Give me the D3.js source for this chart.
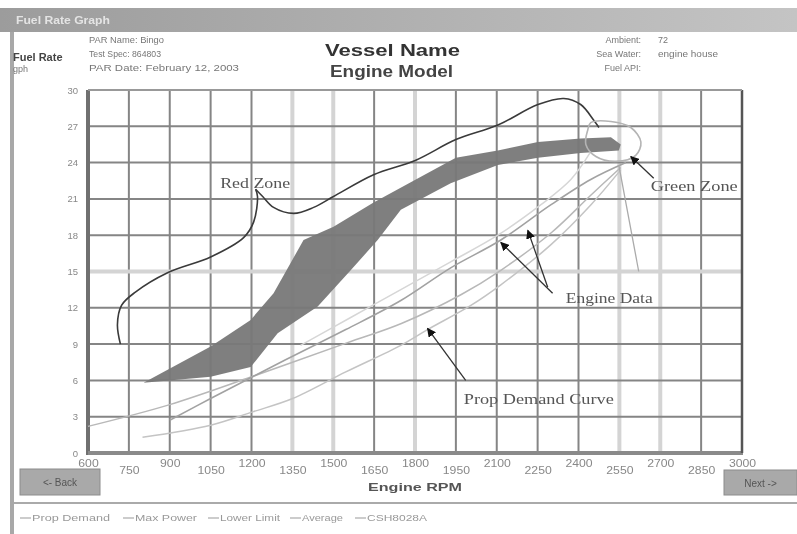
<!DOCTYPE html>
<html>
<head>
<meta charset="utf-8">
<script src="https://cdn.jsdelivr.net/npm/d3@7"></script>
<style>
  body { margin: 0; background: #fff; }
  svg { display: block; font-family: "Liberation Sans", Arial, sans-serif; filter: blur(0.45px); }
</style>
</head>
<body>
<div id="chart"></div>
<script>
// ── Axes ──
const rpmTicks = [600, 750, 900, 1050, 1200, 1350, 1500, 1650, 1800, 1950, 2100, 2250, 2400, 2550, 2700, 2850, 3000];
const fuelTicks = [0, 3, 6, 9, 12, 15, 18, 21, 24, 27, 30];
// grid lines drawn light and wide in the original
const lightRpm = [1350, 1500, 1800, 2550, 2700];
const lightFuel = [15];

// ── Operating band (dark fill) ──
const bandUpper = [[804, 5.8], [1050, 8.8], [1197, 11.0], [1281, 13.2], [1391, 17.6], [1501, 18.7],
  [1648, 20.7], [1803, 22.6], [1950, 24.4], [2104, 25.0], [2251, 25.7], [2408, 26.0], [2519, 26.1], [2555, 25.5]];
const bandLower = [[804, 5.8], [1050, 6.3], [1197, 7.1], [1296, 9.9], [1443, 12.1], [1564, 15.1],
  [1663, 17.6], [1748, 20.1], [1931, 22.3], [2104, 23.8], [2251, 24.4], [2408, 24.8], [2548, 25.0]];

// ── Light curves ──
const propDemand = [[800, 1.3], [1050, 2.3], [1204, 3.4], [1351, 4.5], [1546, 6.7], [1748, 8.9], [1846, 10.2],
  [2005, 12.2], [2115, 13.9], [2298, 17.2], [2445, 20.5], [2555, 23.4]];
const averageRun = [[600, 2.2], [900, 4.0], [1200, 6.3], [1550, 9.1], [1750, 10.7], [1970, 13.1], [2115, 15.1],
  [2300, 18.2], [2445, 21.3], [2555, 23.6]];
const engineRunA = [[900, 2.7], [1050, 4.5], [1325, 7.7], [1546, 10.2], [1748, 12.6], [1931, 15.3], [2115, 17.6],
  [2298, 20.5], [2445, 22.6], [2574, 24.0]];
const engineRunB = [[1380, 8.9], [1564, 11.2], [1748, 13.5], [1931, 15.8], [2104, 18.0], [2261, 20.5],
  [2372, 22.6], [2445, 24.9]];

// ── Red zone boundary (two pieces meeting at a cusp) ──
const redZoneA = [[719, 9.0], [708, 10.6], [723, 12.2], [774, 13.3], [892, 14.9], [1050, 16.2], [1171, 17.8],
  [1208, 19.1], [1222, 21.2], [1215, 21.8]];
const redZoneB = [[1215, 21.8], [1241, 21.2], [1281, 20.3], [1355, 19.8], [1428, 20.3], [1501, 21.2], [1648, 23.0],
  [1803, 24.2], [1950, 25.9], [2104, 27.1], [2251, 28.8], [2346, 29.3], [2408, 28.8], [2456, 27.5], [2475, 26.9]];

// ── Green zone loop ──
const greenZone = [[2445, 27.3], [2519, 27.4], [2592, 26.9], [2629, 25.7], [2610, 24.6], [2537, 24.1],
  [2464, 24.5], [2427, 25.5], [2434, 26.7]];

// ── Annotations ──
const labels = [
  { text: "Red Zone", at: [1085, 22.3], len: 70 },
  { text: "Green Zone", at: [2665, 22.1], len: 87 },
  { text: "Engine Data", at: [2353, 12.8], len: 87 },
  { text: "Prop Demand Curve", at: [1979, 4.5], len: 150 }
];
const arrows = [
  { from: [2676, 22.7], to: [2592, 24.5] },
  { from: [2305, 13.2], to: [2115, 17.4] },
  { from: [2287, 13.7], to: [2214, 18.4] },
  { from: [1986, 6.0], to: [1846, 10.3] }
];
const pointerLine = [[2548, 23.8], [2621, 15.0]];

const legendItems = ["Prop Demand", "Max Power", "Lower Limit", "Average", "CSH8028A"];
const legendX = [20, 123, 208, 290, 355];
const legendLen = [78, 62, 60, 41, 60];

const W = 797, H = 534;
const svg = d3.select("#chart").append("svg").attr("width", W).attr("height", H);

// stretched text, like the wide screenshot
function wide(sel, len) {
  return sel.attr("textLength", len).attr("lengthAdjust", "spacingAndGlyphs");
}

// ── Window chrome ──
const grad = svg.append("defs").append("linearGradient").attr("id", "tb");
grad.append("stop").attr("offset", "0").attr("stop-color", "#9c9c9c");
grad.append("stop").attr("offset", "1").attr("stop-color", "#c4c4c4");
svg.append("rect").attr("x", 0).attr("y", 8).attr("width", W).attr("height", 24).attr("fill", "url(#tb)");
wide(svg.append("text").attr("x", 16).attr("y", 24).attr("fill", "#e4e4e4").attr("font-size", 11)
  .attr("font-weight", "bold").text("Fuel Rate Graph"), 94);
svg.append("rect").attr("x", 10).attr("y", 32).attr("width", 4).attr("height", H - 32).attr("fill", "#a8a8a8");

// header
const hdr = svg.append("g").attr("fill", "#777").attr("font-size", 9);
hdr.append("text").attr("x", 13).attr("y", 61).attr("font-size", 11).attr("font-weight", "bold").attr("fill", "#444").text("Fuel Rate");
hdr.append("text").attr("x", 13).attr("y", 72).text("gph");
wide(hdr.append("text").attr("x", 89).attr("y", 43).text("PAR Name: Bingo"), 75);
wide(hdr.append("text").attr("x", 89).attr("y", 57).text("Test Spec: 864803"), 72);
wide(hdr.append("text").attr("x", 89).attr("y", 71).text("PAR Date: February 12, 2003"), 150);
hdr.append("text").attr("x", 641).attr("y", 43).attr("text-anchor", "end").text("Ambient:");
hdr.append("text").attr("x", 641).attr("y", 57).attr("text-anchor", "end").text("Sea Water:");
hdr.append("text").attr("x", 641).attr("y", 71).attr("text-anchor", "end").text("Fuel API:");
hdr.append("text").attr("x", 658).attr("y", 43).text("72");
wide(hdr.append("text").attr("x", 658).attr("y", 57).text("engine house"), 60);

wide(svg.append("text").attr("x", 325).attr("y", 56).attr("font-size", 17)
  .attr("font-weight", "bold").attr("fill", "#333").text("Vessel Name"), 135);
wide(svg.append("text").attr("x", 330).attr("y", 77).attr("font-size", 17)
  .attr("font-weight", "bold").attr("fill", "#444").text("Engine Model"), 123);

// ── Scales ──
const x = d3.scaleLinear().domain([600, 3000]).range([88, 742]);
const y = d3.scaleLinear().domain([0, 30]).range([453, 90]);
const pt = d => [x(d[0]), y(d[1])];

// ── Grid ──
const grid = svg.append("g");
grid.selectAll("line.v").data(rpmTicks).join("line")
  .attr("x1", d => x(d)).attr("x2", d => x(d)).attr("y1", y(30)).attr("y2", y(0))
  .attr("stroke", d => lightRpm.includes(d) ? "#d4d4d4" : "#858585")
  .attr("stroke-width", d => lightRpm.includes(d) ? 4 : 2);
grid.selectAll("line.h").data(fuelTicks).join("line")
  .attr("y1", d => y(d)).attr("y2", d => y(d)).attr("x1", x(600)).attr("x2", x(3000))
  .attr("stroke", d => lightFuel.includes(d) ? "#d4d4d4" : "#858585")
  .attr("stroke-width", d => lightFuel.includes(d) ? 4 : 2);

// axes frame
svg.append("line").attr("x1", x(600)).attr("x2", x(600)).attr("y1", y(30)).attr("y2", y(0) + 2)
  .attr("stroke", "#707070").attr("stroke-width", 4);
svg.append("line").attr("x1", x(600)).attr("x2", x(3000) + 1).attr("y1", y(0)).attr("y2", y(0))
  .attr("stroke", "#8a8a8a").attr("stroke-width", 4);
svg.append("line").attr("x1", x(3000)).attr("x2", x(3000)).attr("y1", y(30)).attr("y2", y(0))
  .attr("stroke", "#555").attr("stroke-width", 2.5);
svg.append("line").attr("x1", x(600)).attr("x2", x(3000)).attr("y1", y(30)).attr("y2", y(30))
  .attr("stroke", "#999").attr("stroke-width", 2);

// tick labels
const xAxis = svg.append("g").attr("transform", `translate(0,${y(0)})`)
  .call(d3.axisBottom(x).tickValues(rpmTicks).tickSize(0).tickFormat(d3.format("d")));
xAxis.select(".domain").remove();
xAxis.selectAll("text").attr("fill", "#888").attr("font-size", 10)
  .attr("y", (d, i) => i % 2 === 0 ? 7 : 14)
  .attr("transform", "scale(1,1)")
  .each(function(d) { wide(d3.select(this), String(d).length * 6.8); });
const yAxis = svg.append("g").attr("transform", `translate(${x(600) - 7},0)`)
  .call(d3.axisLeft(y).tickValues(fuelTicks).tickSize(0).tickFormat(d3.format("d")));
yAxis.select(".domain").remove();
yAxis.selectAll("text").attr("fill", "#888").attr("font-size", 9.5);
svg.selectAll(".tick text").attr("font-family", "Liberation Sans, Arial, sans-serif");

wide(svg.append("text").attr("x", 368).attr("y", 491).attr("font-size", 11)
  .attr("font-weight", "bold").attr("fill", "#555").text("Engine RPM"), 94);

// ── Band ──
const lin = d3.line().x(d => pt(d)[0]).y(d => pt(d)[1]);
svg.append("path").attr("d", lin(bandUpper.concat(bandLower.slice().reverse())) + "Z")
  .attr("fill", "#787878").attr("fill-opacity", 0.95);

// ── Light curves ──
const smooth = d3.line().x(d => pt(d)[0]).y(d => pt(d)[1]).curve(d3.curveCatmullRom);
const curves = [
  { data: propDemand, color: "#c4c4c4", w: 1.5 },
  { data: averageRun, color: "#b8b8b8", w: 1.5 },
  { data: engineRunA, color: "#a2a2a2", w: 1.6 },
  { data: engineRunB, color: "#d6d6d6", w: 1.5 }
];
svg.append("g").attr("fill", "none").selectAll("path").data(curves).join("path")
  .attr("d", d => smooth(d.data)).attr("stroke", d => d.color).attr("stroke-width", d => d.w);

// red zone
svg.append("g").attr("fill", "none").attr("stroke", "#3a3a3a").attr("stroke-width", 1.6)
  .selectAll("path").data([redZoneA, redZoneB]).join("path").attr("d", d => smooth(d));

// green zone
svg.append("path").attr("d", d3.line().x(d => pt(d)[0]).y(d => pt(d)[1]).curve(d3.curveCatmullRomClosed)(greenZone))
  .attr("fill", "none").attr("stroke", "#b4b4b4").attr("stroke-width", 1.6);
svg.append("path").attr("d", lin(pointerLine)).attr("stroke", "#aaa").attr("stroke-width", 1.3);

// ── Annotations ──
svg.append("defs").append("marker").attr("id", "ah").attr("viewBox", "0 0 10 10").attr("refX", 9).attr("refY", 5)
  .attr("markerWidth", 7).attr("markerHeight", 7).attr("orient", "auto")
  .append("path").attr("d", "M0,0L10,5L0,10Z").attr("fill", "#111");
svg.append("g").selectAll("line").data(arrows).join("line")
  .attr("x1", d => x(d.from[0])).attr("y1", d => y(d.from[1]))
  .attr("x2", d => x(d.to[0])).attr("y2", d => y(d.to[1]))
  .attr("stroke", "#333").attr("stroke-width", 1.3).attr("marker-end", "url(#ah)");
svg.append("g").selectAll("text").data(labels).join("text")
  .attr("x", d => x(d.at[0])).attr("y", d => y(d.at[1]) + 5)
  .attr("font-family", "Liberation Serif, Times New Roman, serif").attr("font-size", 14)
  .attr("fill", "#555").text(d => d.text)
  .attr("textLength", d => d.len).attr("lengthAdjust", "spacingAndGlyphs");

// ── Buttons ──
function button(bx, by, bw, bh, label) {
  svg.append("rect").attr("x", bx).attr("y", by).attr("width", bw).attr("height", bh)
    .attr("fill", "#a9a9a9").attr("stroke", "#8c8c8c");
  svg.append("text").attr("x", bx + bw / 2).attr("y", by + bh / 2 + 4).attr("text-anchor", "middle")
    .attr("font-size", 10).attr("fill", "#555").text(label);
}
button(20, 469, 80, 26, "<- Back");
button(724, 470, 73, 25, "Next ->");

// ── Legend ──
svg.append("line").attr("x1", 14).attr("x2", W).attr("y1", 503).attr("y2", 503).attr("stroke", "#aaa").attr("stroke-width", 2);
const lg = svg.append("g").selectAll("g").data(legendItems).join("g")
  .attr("transform", (d, i) => `translate(${legendX[i]},521)`);
lg.append("line").attr("x1", 0).attr("x2", 11).attr("y1", -3).attr("y2", -3).attr("stroke", "#999");
lg.append("text").attr("x", 12).attr("y", 0).attr("font-size", 9.5).attr("fill", "#999").text(d => d)
  .attr("textLength", (d, i) => legendLen[i]).attr("lengthAdjust", "spacingAndGlyphs");
</script>
</body>
</html>
